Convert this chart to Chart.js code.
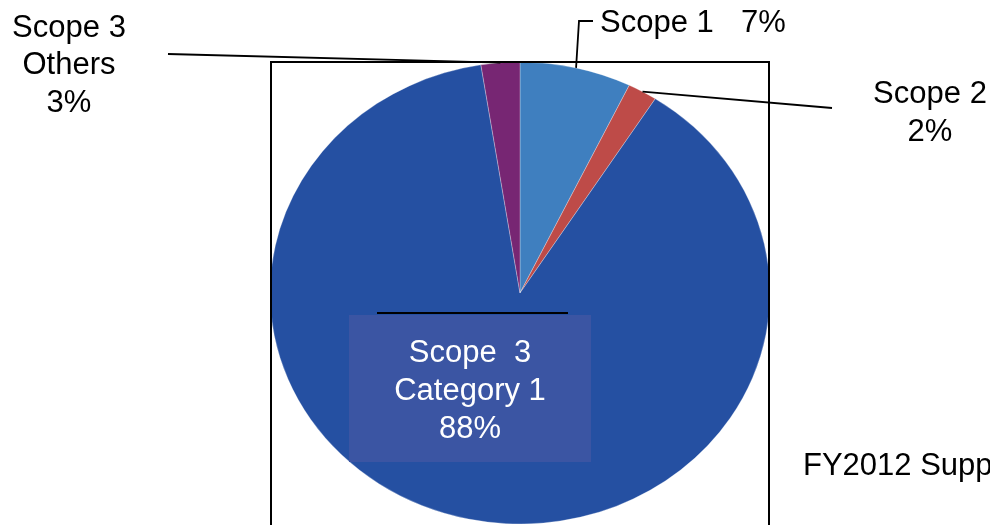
<!DOCTYPE html>
<html>
<head>
<meta charset="utf-8">
<script src="https://cdn.jsdelivr.net/npm/chart.js@4/dist/chart.umd.min.js"></script>
<style>
  html, body { margin: 0; padding: 0; background: #ffffff; }
  #wrap { width: 990px; height: 525px; position: relative; overflow: hidden; }
</style>
</head>
<body>
<div id="wrap"><canvas id="c" width="990" height="525"></canvas></div>
<script>
// ---- data ----
const categories = ['Scope 1', 'Scope 2', 'Scope 3 Category 1', 'Scope 3 Others'];
const values = [7.2, 1.9, 88.4, 2.5];
const percentLabels = ['7%', '2%', '88%', '3%'];
const captionText = 'FY2012 Supply Chain Emissions';

// ---- styles ----
const sliceColors = ['#3F7FBF', '#BE4B48', '#2550A2', '#772673'];
const STRETCH = 250 / 231;
const FONT = '31px "Liberation Sans", Arial, sans-serif';

const ellipsePlugin = {
  id: 'ellipse',
  beforeDatasetsDraw(chart) {
    const a = chart.getDatasetMeta(0).data[0];
    const ctx = chart.ctx;
    ctx.save();
    ctx.translate(a.x, a.y);
    ctx.scale(STRETCH, 1);
    ctx.translate(-a.x, -a.y);
  },
  afterDatasetsDraw(chart) {
    chart.ctx.restore();
  }
};

function arcPoint(arc, frac) {
  const ang = arc.startAngle + (arc.endAngle - arc.startAngle) * frac;
  return {
    x: arc.x + Math.cos(ang) * arc.outerRadius * STRETCH,
    y: arc.y + Math.sin(ang) * arc.outerRadius
  };
}

const annotPlugin = {
  id: 'annot',
  afterDraw(chart) {
    const ctx = chart.ctx;
    const arcs = chart.getDatasetMeta(0).data;
    ctx.save();
    // frame
    ctx.strokeStyle = '#000';
    ctx.lineWidth = 2;
    ctx.strokeRect(271, 62, 498, 600);

    // leader lines
    ctx.lineWidth = 1.8;
    // Scope 1
    let p = arcPoint(arcs[0], 0.5);
    ctx.beginPath();
    ctx.moveTo(p.x, p.y); ctx.lineTo(579, 21); ctx.lineTo(593, 21);
    ctx.stroke();
    // Scope 2
    p = arcPoint(arcs[1], 0.5);
    ctx.beginPath();
    ctx.moveTo(p.x, p.y); ctx.lineTo(832, 108);
    ctx.stroke();
    // Scope 3 Others
    p = arcPoint(arcs[3], 0.5);
    ctx.beginPath();
    ctx.moveTo(p.x, p.y); ctx.lineTo(168, 54);
    ctx.stroke();
    // Category 1 line
    ctx.lineWidth = 2;
    ctx.beginPath();
    ctx.moveTo(377, 313); ctx.lineTo(568, 313);
    ctx.stroke();

    // category 1 box
    ctx.fillStyle = '#3B55A3';
    ctx.fillRect(349, 315, 242, 147);

    ctx.font = FONT;
    ctx.textBaseline = 'alphabetic';
    // box text
    ctx.fillStyle = '#ffffff';
    ctx.textAlign = 'center';
    ctx.fillText('Scope  3', 470, 362);
    ctx.fillText('Category 1', 470, 400);
    ctx.fillText(percentLabels[2], 470, 438);

    ctx.fillStyle = '#000000';
    // Scope 3 Others
    ctx.fillText('Scope 3', 69, 37);
    ctx.fillText('Others', 69, 74);
    ctx.fillText(percentLabels[3], 69, 112);
    // Scope 2
    ctx.fillText(categories[1], 930, 103);
    ctx.fillText(percentLabels[1], 930, 141);
    // Scope 1
    ctx.textAlign = 'left';
    ctx.fillText(categories[0], 600, 32);
    ctx.fillText(percentLabels[0], 741, 32);
    // caption
    ctx.fillText(captionText, 803, 475);
    ctx.restore();
  }
};

new Chart(document.getElementById('c'), {
  type: 'pie',
  data: {
    labels: categories,
    datasets: [{
      data: values,
      backgroundColor: sliceColors,
      borderColor: 'rgba(255,255,255,0.45)',
      borderWidth: 0.6,
      radius: 231,
      clip: false
    }]
  },
  options: {
    responsive: false,
    animation: false,
    events: [],
    layout: { padding: { left: 50, right: 0, top: 61, bottom: 0 } },
    plugins: {
      legend: { display: false },
      tooltip: { enabled: false },
      title: { display: false }
    }
  },
  plugins: [ellipsePlugin, annotPlugin]
});
</script>
</body>
</html>
